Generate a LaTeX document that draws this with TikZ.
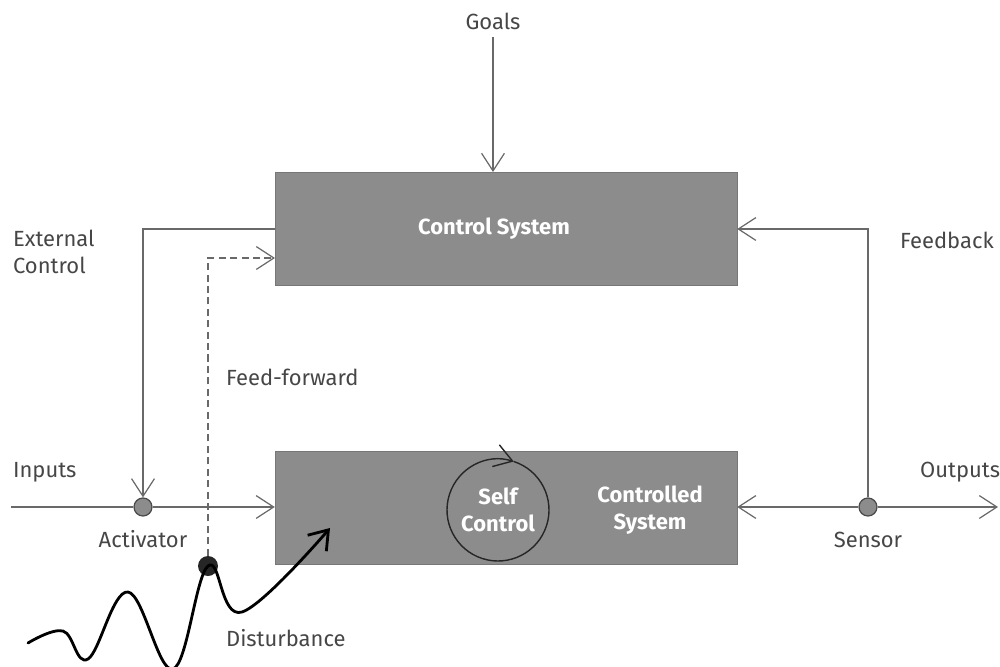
\documentclass[tikz,border=0pt]{standalone}
\usepackage{fontspec}
\setmainfont{Fira Sans}
\usepackage{tikz}
\definecolor{boxgray}{RGB}{140, 140, 140}
\definecolor{linegray}{RGB}{105, 105, 105}
\definecolor{textgray}{RGB}{70, 70, 70}
\usetikzlibrary{arrows.meta, positioning, calc}

\begin{document}
\begin{tikzpicture}[
    x=0.02cm, y=-0.02cm,
    sysbox/.style={rectangle, fill=boxgray, draw=boxgray!85!black, line width=0.3pt,
                   minimum width=9.24cm, minimum height=2.27cm, inner sep=0pt},
    boxlabel/.style={font=\fontsize{12.5}{15}\selectfont\bfseries, text=white, align=center},
    lbl/.style={font=\fontsize{12.5}{15}\selectfont, text=textgray, align=left, inner sep=1pt},
    flow/.style={draw=linegray, line width=0.7pt, -{Straight Barb[length=10pt, width=13pt]}},
    plain/.style={draw=linegray, line width=0.7pt},
    junction/.style={circle, fill=boxgray, draw=linegray!70!black, line width=0.7pt,
                     minimum size=0.36cm, inner sep=0pt},
    wave/.style={draw=black, line width=1.6pt, line cap=round}
]
    \useasboundingbox (0,0) rectangle (1000,666);

    \node[sysbox] (ctrl) at (506,229) {};
    \node[boxlabel] (ctrltxt) at (494,229) {Control System};
    \node[sysbox] (plant) at (506,508) {};
    \node[boxlabel] (planttxt) at (650,510) {Controlled\\System};
    \node[circle, minimum size=2.04cm, inner sep=0pt] (selfc) at (498,510) {};
    \node[boxlabel] (selftxt) at (selfc) {Self\\Control};

    \node[lbl] (goals) at (493,21) {Goals};
    \node[lbl, anchor=west] (extctl) at (11,252) {External\\Control};
    \node[lbl, anchor=west] (ffwd) at (224,377) {Feed-forward};
    \node[lbl, anchor=west] (inputs) at (11,472) {Inputs};
    \node[lbl, anchor=west] (feedback) at (898,240) {Feedback};
    \node[lbl, anchor=west] (outputs) at (918,472) {Outputs};
    \node[lbl] (acttxt) at (143,539) {Activator};
    \node[lbl] (senstxt) at (868,540) {Sensor};
    \node[lbl, anchor=west] (disttxt) at (224,638) {Disturbance};

    \node[junction] (act) at (143,507) {};
    \node[junction] (sens) at (868,507) {};
    \node[circle, fill=black!85, minimum size=0.4cm, inner sep=0pt] (dist) at (208,566) {};
    \coordinate (inp) at (11,507);
    \coordinate (out) at (998,507);
    \coordinate (ffin) at (275,258);

    \draw[flow] (goals.south) ++(0,6) -- (goals |- ctrl.north);
    \draw[flow] (ctrl.west) -| (act.north);
    \draw[flow, dash pattern=on 4pt off 2.5pt] (dist.north) |- (ffin);
    \draw[plain] (inp) -- (act);
    \draw[flow] (act) -- (act -| plant.west);
    \draw[flow] (sens) -- (sens -| plant.east);
    \draw[flow] (sens) -- (out);
    \draw[flow] (sens) |- (ctrl.east);

    \draw[draw=black!85, line width=0.8pt, -{Straight Barb[length=10pt, width=13pt]}]
        ($(selfc.center)+(72:1.02cm)$) arc[start angle=72, end angle=-288, radius=1.02cm];

    \draw[wave, -{Straight Barb[length=10pt, width=14pt, line width=1.6pt]}]
        plot[smooth, tension=0.65] coordinates {(28,643) (63,631) (88,659) (128,592)
        (173,669) (208,566) (242,612) (330,528)};
\end{tikzpicture}
\end{document}
